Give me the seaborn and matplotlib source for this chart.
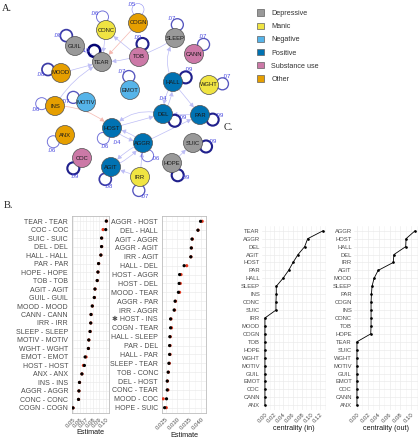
import numpy as np
import pandas as pd
import matplotlib.pyplot as plt
import seaborn as sns
from matplotlib.patches import Circle, Patch, FancyArrowPatch

# ---------------- data ----------------
# A. network nodes (layout in pixels), group and self-loop weight
node_names = ['CONC', 'COGN', 'GUIL', 'TEAR', 'TOB', 'SLEEP', 'CANN', 'MOOD', 'EMOT', 'HALL', 'WGHT', 'INS',
              'MOTIV', 'DEL', 'PAR', 'ANX', 'HOST', 'AGGR', 'COC', 'AGIT', 'IRR', 'SUIC', 'HOPE']
node_groups = ['Manic', 'Other', 'Depressive', 'Depressive', 'Substance use', 'Depressive', 'Substance use',
               'Other', 'Negative', 'Positive', 'Manic', 'Other', 'Negative', 'Positive', 'Positive', 'Other',
               'Positive', 'Positive', 'Substance use', 'Positive', 'Manic', 'Depressive', 'Depressive']
loop_weights = [0.06, 0.05, 0.08, 0.10, 0.09, 0.07, 0.07, 0.08, 0.07, 0.09, 0.07, 0.06,
                0.07, 0.09, 0.09, 0.06, 0.06, 0.06, 0.09, 0.08, 0.07, 0.09, 0.09]
node_x = [106, 138, 75, 102, 139, 175, 194, 61, 130, 173, 209, 55, 86, 163, 200, 65, 112, 143, 82, 111, 140, 193, 172]
node_y = [30, 23, 46, 62, 57, 38, 54, 73, 90, 82, 85, 106, 102, 114, 115, 135, 128, 143, 158, 167, 177, 143, 163]
loop_angle = [105, 90, 130, 125, 75, 80, 45, 165, 95, 20, 5, 170, 160, -30, -20, 210, 230, 290, 230, 245, 265, -15, 295]

edges = [('GUIL', 'TEAR', 0.0, 'pos'), ('CONC', 'TEAR', 0.0, 'pos'), ('COGN', 'TEAR', 0.0, 'neg'),
         ('MOOD', 'TEAR', 0.0, 'pos'), ('INS', 'TEAR', -0.15, 'pos'), ('SLEEP', 'TEAR', -0.15, 'pos'),
         ('TOB', 'CONC', 0.0, 'pos'), ('HALL', 'SLEEP', -0.3, 'pos'), ('HALL', 'DEL', 0.15, 'pos'),
         ('DEL', 'HALL', 0.15, 'pos'), ('HALL', 'PAR', 0.0, 'pos'), ('PAR', 'DEL', 0.0, 'pos'),
         ('DEL', 'HOST', 0.3, 'pos'), ('HOST', 'DEL', 0.0, 'pos'), ('HOST', 'AGGR', 0.15, 'pos'),
         ('AGGR', 'HOST', 0.15, 'pos'), ('AGGR', 'AGIT', 0.15, 'pos'), ('AGIT', 'AGGR', 0.15, 'pos'),
         ('IRR', 'AGIT', 0.0, 'pos'), ('IRR', 'AGGR', 0.0, 'pos'), ('AGGR', 'PAR', 0.0, 'pos'),
         ('HOPE', 'SUIC', 0.0, 'pos'), ('INS', 'HOST', -0.2, 'neg')]

group_names = ['Depressive', 'Manic', 'Negative', 'Positive', 'Substance use', 'Other']
group_colors = ['#999999', '#F0E442', '#56B4E9', '#0072B2', '#CC79A7', '#E69F00']

# B. bootstrapped edge estimates (black = sample, red = bootstrap mean)
self_edges = ['TEAR - TEAR', 'COC - COC', 'SUIC - SUIC', 'DEL - DEL', 'HALL - HALL', 'PAR - PAR',
              'HOPE - HOPE', 'TOB - TOB', 'AGIT - AGIT', 'GUIL - GUIL', 'MOOD - MOOD', 'CANN - CANN',
              'IRR - IRR', 'SLEEP - SLEEP', 'MOTIV - MOTIV', 'WGHT - WGHT', 'EMOT - EMOT', 'HOST - HOST',
              'ANX - ANX', 'INS - INS', 'AGGR - AGGR', 'CONC - CONC', 'COGN - COGN']
self_est = [0.1008, 0.1000, 0.0935, 0.0935, 0.0924, 0.0889, 0.0879, 0.0868, 0.0833, 0.0823, 0.0792, 0.0773,
            0.0768, 0.0758, 0.0738, 0.0732, 0.0682, 0.0671, 0.0632, 0.0595, 0.0586, 0.0580, 0.0495]
self_boot = [0.1012, 0.0959, 0.0938, 0.0938, 0.0926, 0.0891, 0.0881, 0.0870, 0.0836, 0.0826, 0.0795, 0.0775,
             0.0770, 0.0760, 0.0740, 0.0734, 0.0697, 0.0656, 0.0634, 0.0597, 0.0588, 0.0582, 0.0497]

cross_edges = ['AGGR - HOST', 'DEL - HALL', 'AGIT - AGGR', 'AGGR - AGIT', 'IRR - AGIT', 'HALL - DEL',
               'HOST - AGGR', 'HOST - DEL', 'MOOD - TEAR', 'AGGR - PAR', 'IRR - AGGR', '\u2731 HOST - INS',
               'COGN - TEAR', 'HALL - SLEEP', 'PAR - DEL', 'HALL - PAR', 'SLEEP - TEAR', 'TOB - CONC',
               'DEL - HOST', 'CONC - TEAR', 'MOOD - COC', 'HOPE - SUIC']
cross_est = [0.0397, 0.0386, 0.0361, 0.0358, 0.0356, 0.0328, 0.0309, 0.0307, 0.0304, 0.0290, 0.0286,
             0.0271, 0.0271, 0.0268, 0.0267, 0.0267, 0.0264, 0.0261, 0.0257, 0.0257, 0.0254, 0.0246]
cross_boot = [0.0404, 0.0387, 0.0363, 0.0359, 0.0357, 0.0339, 0.0315, 0.0312, 0.0309, 0.0292, 0.0288,
              0.0273, 0.0275, 0.0270, 0.0269, 0.0269, 0.0266, 0.0262, 0.0258, 0.0260, 0.0240, 0.0253]

# C. centrality
in_nodes = ['TEAR', 'AGGR', 'DEL', 'AGIT', 'HOST', 'PAR', 'HALL', 'SLEEP', 'INS', 'CONC', 'SUIC', 'IRR',
            'MOOD', 'COGN', 'TOB', 'HOPE', 'WGHT', 'MOTIV', 'GUIL', 'EMOT', 'COC', 'CANN', 'ANX']
in_strength = [0.126, 0.0926, 0.0861, 0.0717, 0.0609, 0.0513, 0.0391, 0.0246, 0.0246, 0.0239, 0.0239, 0,
               0, 0, 0, 0, 0, 0, 0, 0, 0, 0, 0]
out_nodes = ['AGGR', 'HOST', 'HALL', 'DEL', 'IRR', 'AGIT', 'MOOD', 'SLEEP', 'PAR', 'COGN', 'INS', 'CONC',
             'TOB', 'HOPE', 'TEAR', 'SUIC', 'WGHT', 'MOTIV', 'GUIL', 'EMOT', 'COC', 'CANN', 'ANX']
out_strength = [0.107, 0.0904, 0.0898, 0.0681, 0.0668, 0.039, 0.0315, 0.0278, 0.0267, 0.026, 0.026, 0.026,
                0.026, 0.0254, 0, 0, 0, 0, 0, 0, 0, 0, 0]

# ---------------- figure ----------------
W, H = 420, 440


def box(x0, y0, x1, y1):
    return [x0 / W, 1 - y1 / H, (x1 - x0) / W, (y1 - y0) / H]


sns.set_theme(style='white')
plt.rcParams['font.family'] = ['Liberation Sans', 'DejaVu Sans']
fig = plt.figure(figsize=(W / 100, H / 100), dpi=100)

# ---- A. network ----
ax = fig.add_axes(box(0, 0, 240, 200))
ax.set_xlim(0, 240)
ax.set_ylim(200, 0)
ax.axis('off')
pos = dict(zip(node_names, zip(node_x, node_y)))
col_of = dict(zip(group_names, group_colors))
R = 9.5
for a, b, rad, sign in edges:
    c = '#BDBDF6' if sign == 'pos' else '#F5B8B0'
    ax.add_patch(FancyArrowPatch(pos[a], pos[b], connectionstyle=f'arc3,rad={rad}',
                                 arrowstyle='-|>,head_length=0.8,head_width=0.45', mutation_scale=3,
                                 shrinkA=R * 0.72, shrinkB=R * 0.72 + 0.3, color=c, lw=0.5, zorder=1))
for name, grp, w, ang in zip(node_names, node_groups, loop_weights, loop_angle):
    x, y = pos[name]
    t = np.clip((w - 0.05) / 0.05, 0, 1)
    col = (1 - t) * np.array([0.55, 0.55, 0.95]) + t * np.array([0.02, 0.02, 0.45])
    th = np.deg2rad(ang)
    lx, ly = x + (R + 4) * np.cos(th), y - (R + 4) * np.sin(th)
    ax.add_patch(Circle((lx, ly), 6, fill=False, ec=col, lw=0.4 + 1.4 * t, zorder=2))
    tx, ty = lx + 8.5 * np.cos(th + 0.9), ly - 8.5 * np.sin(th + 0.9)
    ax.text(tx, ty, f'{w:.2f}'[1:], color='#4848E0', fontsize=4.3, ha='center', va='center', zorder=2)
    ax.add_patch(Circle((x, y), R, fc=col_of[grp], ec='#505050', lw=0.5, zorder=3))
    ax.text(x, y, name, ha='center', va='center', fontsize=4.2, color='#1A1A1A', zorder=4)
ax.text(163, 98, '.04', color='#4848E0', fontsize=4.3, ha='center', va='center')
ax.text(117, 142, '.04', color='#4848E0', fontsize=4.3, ha='center', va='center')

handles = [Patch(facecolor=c, edgecolor='#606060', lw=0.5, label=g) for g, c in zip(group_names, group_colors)]
fig.legend(handles=handles, loc='upper left', bbox_to_anchor=(257 / W, 1 - 9.5 / H), frameon=False,
           fontsize=5.2, handlelength=1.0, handleheight=1.0, labelspacing=0.75, handletextpad=1.0,
           borderpad=0, borderaxespad=0, labelcolor='#333333')

for lbl, x, y in [('A.', 2, 11), ('B.', 4, 208), ('C.', 224, 130)]:
    fig.text(x / W, 1 - y / H, lbl, family='Liberation Serif', fontsize=7.5, color='#222222')


# ---- B. edge estimates ----
def dot_panel(rect, names, est, boot, xlim, ticks, fmt):
    ax = fig.add_axes(box(*rect))
    n = len(names)
    df = pd.DataFrame({'edge': names + names, 'value': boot + est,
                       'kind': ['boot'] * n + ['sample'] * n})
    sns.stripplot(data=df, x='value', y='edge', hue='kind', order=names, hue_order=['boot', 'sample'],
                  palette={'boot': '#E3381F', 'sample': 'black'}, jitter=False, size=2.3, linewidth=0,
                  legend=False, ax=ax)
    ax.set_xlim(*xlim)
    ax.set_ylim(n - 0.4, -0.6)
    ax.set_xticks(ticks)
    ax.set_xticklabels([fmt.format(v) for v in ticks], rotation=45, ha='right', rotation_mode='anchor')
    ax.set_xticks([(a + b) / 2 for a, b in zip(ticks[:-1], ticks[1:])], minor=True)
    ax.grid(True, which='major', color='#EBEBEB', lw=0.5)
    ax.grid(True, which='minor', axis='x', color='#F4F4F4', lw=0.4)
    ax.set_axisbelow(True)
    for s in ax.spines.values():
        s.set_color('#BDBDBD')
        s.set_linewidth(0.6)
    ax.tick_params(axis='y', labelsize=5, labelcolor='#4D4D4D', length=1.8, width=0.4, color='#333333', pad=1)
    ax.tick_params(axis='x', labelsize=4.3, labelcolor='#4D4D4D', length=1.8, width=0.4, color='#333333', pad=1)
    ax.tick_params(which='minor', length=0)
    ax.set_ylabel('')
    ax.set_xlabel('Estimate', fontsize=5.2, labelpad=0.5, color='#1A1A1A')
    return ax


dot_panel((72, 216, 109, 413), self_edges, self_est, self_boot, (0.048, 0.105),
          [0.05, 0.06, 0.07, 0.08, 0.09, 0.10], '{:.2f}')
dot_panel((162, 216, 206, 413), cross_edges, cross_est, cross_boot, (0.0235, 0.0420),
          [0.025, 0.030, 0.035, 0.040], '{:.3f}')


# ---- C. centrality ----
def central_panel(rect, names, vals, xlim, ticks, label):
    ax = fig.add_axes(box(*rect))
    n = len(names)
    sns.pointplot(x=vals, y=names, order=names, orient='y', color='black', markersize=1.4, linewidth=0.6,
                  errorbar=None, ax=ax)
    ax.set_xlim(*xlim)
    ax.set_ylim(n - 0.4, -0.6)
    ax.set_xticks(ticks)
    ax.set_xticklabels([f'{v:.2f}' for v in ticks], rotation=45, ha='right', rotation_mode='anchor')
    ax.set_xticks(np.arange(0.01, xlim[1], 0.02), minor=True)
    ax.grid(True, which='major', color='#EBEBEB', lw=0.5)
    ax.grid(True, which='minor', axis='x', color='#F3F3F3', lw=0.4)
    ax.set_axisbelow(True)
    for s in ax.spines.values():
        s.set_visible(False)
    ax.tick_params(axis='y', labelsize=4.2, labelcolor='#4D4D4D', length=0, pad=1.5)
    ax.tick_params(axis='x', labelsize=4.3, labelcolor='#4D4D4D', length=0, pad=1.5)
    ax.tick_params(which='minor', length=0)
    ax.set_ylabel('')
    ax.set_xlabel(label, fontsize=5.2, labelpad=1, color='#1A1A1A')
    return ax


central_panel((262, 226, 326, 410), in_nodes, in_strength, (-0.0063, 0.1323),
              [0.0, 0.02, 0.04, 0.06, 0.08, 0.10, 0.12], 'centrality (in)')
central_panel((354, 226, 418, 410), out_nodes, out_strength, (-0.0054, 0.1124),
              [0.0, 0.02, 0.04, 0.06, 0.08, 0.10], 'centrality (out)')

fig.savefig('out.png', dpi=100)
